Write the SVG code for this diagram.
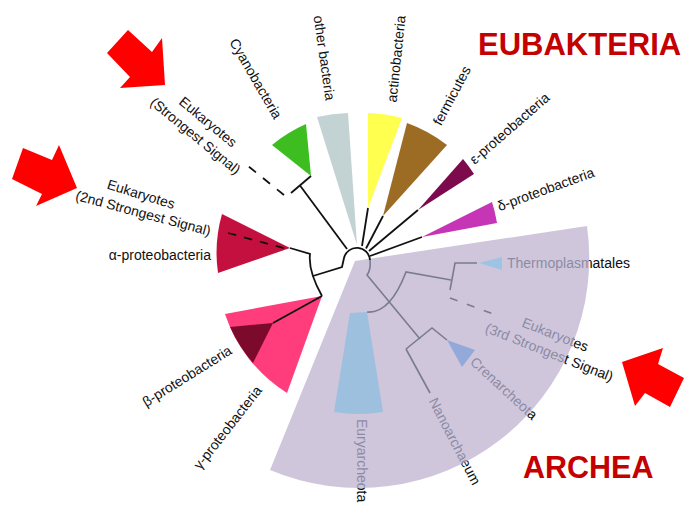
<svg xmlns="http://www.w3.org/2000/svg" width="693" height="505" viewBox="0 0 693 505">
<style>
.lbl{font-family:"Liberation Sans",Arial,sans-serif;font-size:14px;fill:#111}
.in{fill:url(#inout)}
.ttl{font-family:"Liberation Sans",Arial,sans-serif;font-weight:bold;fill:#c40000}
.br{fill:none;stroke:#111;stroke-width:1.8}
.ag{fill:none;stroke:#7b7b90;stroke-width:1.6}
.arrow{fill:#ff0000}
</style>
<defs>
<linearGradient id="inout" gradientUnits="userSpaceOnUse" x1="-0.5" y1="0" x2="0.5" y2="0">
<stop offset="0.5" stop-color="#8a8aa2"/><stop offset="0.5" stop-color="#111"/>
</linearGradient>
</defs>
<rect width="693" height="505" fill="#fff"/>

<g id="archaea-region">
<path d="M355,261 L587,226 A230,230 0 0 1 270,470 Z" fill="#cfc6dc"/>
</g>

<g id="cyanobacteria">
<path d="M311,176 L272,145 A142,142 0 0 1 306,124 Z" fill="#3dbd1f"/>
<text class="lbl" transform="translate(255,79) rotate(60)" text-anchor="middle" y="4">Cyanobacteria</text>
</g>
<g id="other-bacteria">
<path d="M357,245 L317,117 A146,146 0 0 1 348,113 Z" fill="#c3d3d3"/>
<text class="lbl" transform="translate(323.5,58) rotate(82)" text-anchor="middle" y="4">other bacteria</text>
</g>
<g id="actinobacteria">
<path d="M368,208 L368,113 A146,146 0 0 1 402,118 Z" fill="#ffff50"/>
<text class="lbl" transform="translate(397,59) rotate(-84)" text-anchor="middle" y="4">actinobacteria</text>
</g>
<g id="fermicutes">
<path d="M383,216 L407,123 A144,144 0 0 1 447,145 Z" fill="#9c6c24"/>
<text class="lbl" transform="translate(452.5,96) rotate(-62)" text-anchor="middle" y="4">fermicutes</text>
</g>
<g id="epsilon-proteobacteria">
<path d="M418,210 L463,159 A141,141 0 0 1 474,174 Z" fill="#7c0a4c"/>
<text class="lbl" transform="translate(510,129) rotate(-41)" text-anchor="middle" y="4">ε-proteobacteria</text>
</g>
<g id="delta-proteobacteria">
<path d="M422,237 L492,202 A145,145 0 0 1 497,223 Z" fill="#c535b5"/>
<text class="lbl" transform="translate(546,190) rotate(-20)" text-anchor="middle" y="4">δ-proteobacteria</text>
</g>
<g id="alpha-proteobacteria">
<path d="M290,248 L222,214 A141,141 0 0 0 218,273 Z" fill="#c4103e"/>
<text class="lbl" x="211" y="259.5" text-anchor="end">α-proteobacteria</text>
</g>
<g id="gamma-proteobacteria">
<path d="M322,296 L225,314 A148,148 0 0 0 287,393 Z" fill="#ff3d7c"/>
<text class="lbl" transform="translate(228.3,428) rotate(-52)" text-anchor="middle" y="4">γ-proteobacteria</text>
</g>
<g id="beta-proteobacteria">
<path d="M273,323 L230,327 A148,148 0 0 0 253,363 Z" fill="#7c0a2c"/>
<text class="lbl" transform="translate(187.5,376.7) rotate(-32)" text-anchor="middle" y="4">β-proteobacteria</text>
</g>
<g id="eukaryotes-1">
<text class="lbl" transform="translate(207.5,122.5) rotate(39.5)" text-anchor="middle" y="4">Eukaryotes</text>
<text class="lbl" transform="translate(195,136.5) rotate(39.5)" text-anchor="middle" y="4">(Strongest Signal)</text>
</g>
<g id="eukaryotes-2">
<text class="lbl" transform="translate(140.8,195) rotate(17)" text-anchor="middle" y="4">Eukaryotes</text>
<text class="lbl" transform="translate(143,214) rotate(15)" text-anchor="middle" y="4">(2nd Strongest Signal)</text>
</g>

<g id="euryarcheota">
<path d="M350,313 L367,312 L383,412 Q358,416 334,412 Z" fill="#9dc0de"/>
<text class="lbl in" transform="translate(356.5,488) rotate(90)" x="-69">Euryarcheota</text>
</g>
<g id="thermoplasmatales">
<path d="M479,263 L502,257 L502,270 Z" fill="#9fc3e2"/>
<text class="lbl in" transform="translate(589,267.5)" x="-82">Thermoplasmatales</text>
</g>
<g id="crenarcheota">
<path d="M447,340 L475,350 L462,367 Z" fill="#93a9d9"/>
<text class="lbl in" transform="translate(526.5,415.6) rotate(42.5)" x="-77.5">Crenarcheota</text>
</g>
<g id="nanoarchaeum">
<text class="lbl in" transform="translate(461.2,464.1) rotate(62.5)" x="-71">Nanoarchaeum</text>
</g>
<g id="eukaryotes-3">
<text class="lbl in" transform="translate(571.4,346.1) rotate(21.5)" x="-54.3">Eukaryotes</text>
<text class="lbl in" transform="translate(563.6,363.1) rotate(21.5)" x="-85.4">(3rd Strongest Signal)</text>
</g>

<g id="connectors">
<path class="br" d="M313,276 L342,267 L344,258 A13.2,13.2 0 0 1 370,260"/>
<path class="br" d="M347,249 L300,185.5"/>
<path class="br" d="M291,193 L311,176"/>
<path class="br" d="M362,246 L368,208"/>
<path class="br" d="M366,248.5 L383,216"/>
<path class="br" d="M369,251 L418,210"/>
<path class="br" d="M370,256 L422,237"/>
<path class="br" d="M290,248 L310,254 Q308,271 322,296"/>
<path class="br" d="M322,296 L273,323"/>
<path class="br" d="M284,195 L248,166" stroke-dasharray="9 9"/>
<path class="br" d="M228,233 L287,249" stroke-dasharray="8.5 8"/>
<path class="ag" d="M370,260 Q371,270 367,275 L420,339"/>
<path class="ag" d="M367,312 Q390,314 406,272 L451,280"/>
<path class="ag" d="M450,290 L455,263 L477,263"/>
<path class="ag" d="M406,349 L432,328 L447,340"/>
<path class="ag" d="M406,349 L430,393"/>
<path class="ag" d="M450,298 L492,313.5" stroke-dasharray="8 10"/>
</g>

<g id="arrow-1"><polygon class="arrow" points="128,30 152,52 162,38 165,85 120,88 130,77 107,53"/></g>
<g id="arrow-2"><polygon class="arrow" points="23,148 52,160 59,145 77,188 36,206 42,194 12,179"/></g>
<g id="arrow-3"><polygon class="arrow" points="622,362 663,348 658,364 684,378 670,407 645,393 635,406"/></g>

<g id="title-eubakteria"><text class="ttl" x="478" y="55" font-size="31">EUBAKTERIA</text></g>
<g id="title-archea"><text class="ttl" x="523" y="478" font-size="30.5">ARCHEA</text></g>
</svg>
